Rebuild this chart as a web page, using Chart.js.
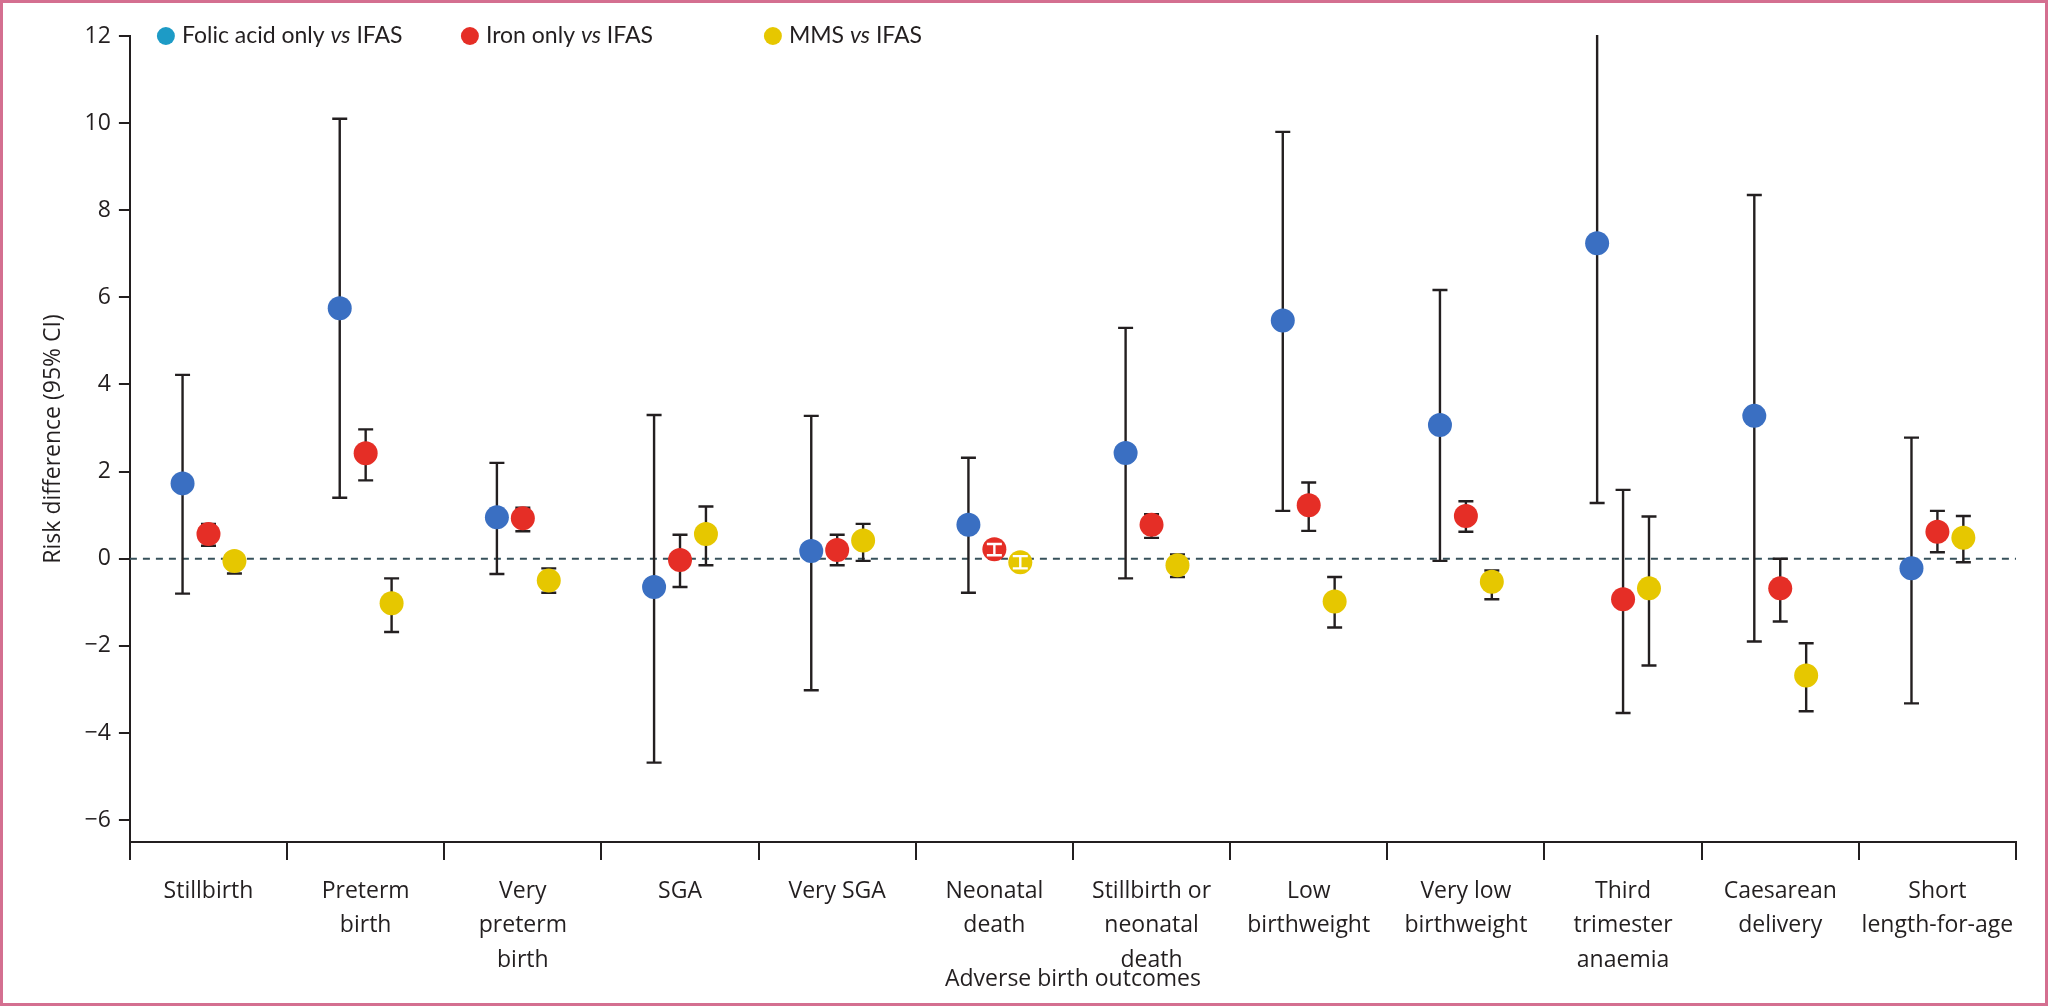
<!DOCTYPE html>
<html>
<head>
<meta charset="utf-8">
<script src="https://cdn.jsdelivr.net/npm/chart.js@4.4.1/dist/chart.umd.min.js"></script>
<style>
  html, body { margin: 0; padding: 0; background: #fff; }
  #wrap { width: 2048px; height: 1006px; }
</style>
</head>
<body>
<div id="wrap"><canvas id="rdChart"></canvas></div>
<script>
// Adverse birth outcomes: risk difference (95% CI) vs IFAS
const categories = [
    ['Stillbirth'], ['Preterm', 'birth'], ['Very', 'preterm', 'birth'], ['SGA'], ['Very SGA'],
    ['Neonatal', 'death'], ['Stillbirth or', 'neonatal', 'death'], ['Low', 'birthweight'],
    ['Very low', 'birthweight'], ['Third', 'trimester', 'anaemia'], ['Caesarean', 'delivery'],
    ['Short', 'length-for-age']
];
const yTicks = [-6, -4, -2, 0, 2, 4, 6, 8, 10, 12];
const seriesNames = ['Folic acid only vs IFAS', 'Iron only vs IFAS', 'MMS vs IFAS'];

const folicRD   = [1.73, 5.75, 0.95, -0.65, 0.18, 0.78, 2.43, 5.47, 3.07, 7.24, 3.28, -0.22];
const folicLow  = [-0.8, 1.4, -0.35, -4.68, -3.02, -0.78, -0.45, 1.1, -0.05, 1.28, -1.9, -3.32];
const folicHigh = [4.22, 10.1, 2.2, 3.3, 3.28, 2.32, 5.3, 9.8, 6.17, 12.5, 8.35, 2.78];

const ironRD    = [0.57, 2.42, 0.93, -0.03, 0.2, 0.22, 0.78, 1.23, 0.98, -0.93, -0.68, 0.62];
const ironLow   = [0.3, 1.8, 0.63, -0.65, -0.15, 0.08, 0.48, 0.64, 0.62, -3.54, -1.44, 0.15];
const ironHigh  = [0.8, 2.97, 1.17, 0.55, 0.55, 0.34, 1.02, 1.75, 1.32, 1.58, 0.0, 1.1];

const mmsRD     = [-0.05, -1.02, -0.5, 0.57, 0.42, -0.08, -0.15, -0.98, -0.53, -0.68, -2.68, 0.48];
const mmsLow    = [-0.34, -1.68, -0.78, -0.15, -0.05, -0.22, -0.42, -1.58, -0.93, -2.45, -3.5, -0.08];
const mmsHigh   = [0.12, -0.45, -0.22, 1.2, 0.8, 0.06, 0.1, -0.42, -0.27, 0.97, -1.94, 0.98];

const dodge = [-0.165, 0, 0.165];
const colors = ['#3a6fc2', '#e52e26', '#e6c700'];
const legendColors = ['#1d9bc6', '#e52e26', '#e6c700'];
const legendOffsets = [36, 340, 643];
const ink = '#231f20';
const FONT = '"Open Sans", sans-serif';
const LEGEND_FONT = 'Lato, sans-serif';
const RADIUS = 12;

function toPoints(values, k) {
    return values.map((v, i) => ({ x: i + dodge[k], y: v }));
}

function drawBar(ctx, x, lo, hi, color) {
    ctx.strokeStyle = color;
    ctx.lineWidth = 2.4;
    ctx.beginPath();
    ctx.moveTo(x, lo); ctx.lineTo(x, hi);
    ctx.moveTo(x - 7.5, lo); ctx.lineTo(x + 7.5, lo);
    ctx.moveTo(x - 7.5, hi); ctx.lineTo(x + 7.5, hi);
    ctx.stroke();
}

const errorBars = {
    id: 'errorBars',
    beforeDatasetsDraw(chart) {
        const { ctx, chartArea, scales: { y } } = chart;
        ctx.save();
        ctx.beginPath();
        ctx.rect(chartArea.left, chartArea.top - 1, chartArea.width, chartArea.height + 2);
        ctx.clip();
        // dashed zero line
        const y0 = y.getPixelForValue(0);
        ctx.strokeStyle = '#36505a';
        ctx.lineWidth = 2;
        ctx.setLineDash([7, 6]);
        ctx.beginPath();
        ctx.moveTo(chartArea.left, y0);
        ctx.lineTo(chartArea.right, y0);
        ctx.stroke();
        ctx.setLineDash([]);
        chart.data.datasets.forEach((ds, k) => {
            chart.getDatasetMeta(k).data.forEach((pt, i) => {
                drawBar(ctx, pt.x, y.getPixelForValue(ds.ciLow[i]), y.getPixelForValue(ds.ciHigh[i]), ink);
            });
        });
        ctx.restore();
    },
    afterDatasetsDraw(chart) {
        // a CI well inside its marker is drawn in white over the marker
        const { ctx, scales: { y } } = chart;
        ctx.save();
        chart.data.datasets.forEach((ds, k) => {
            chart.getDatasetMeta(k).data.forEach((pt, i) => {
                const lo = y.getPixelForValue(ds.ciLow[i]);
                const hi = y.getPixelForValue(ds.ciHigh[i]);
                if (Math.abs(lo - pt.y) < RADIUS - 3 && Math.abs(hi - pt.y) < RADIUS - 3) {
                    drawBar(ctx, pt.x, lo, hi, '#fff');
                }
            });
        });
        ctx.restore();
    }
};

const legendRow = {
    id: 'legendRow',
    afterDraw(chart) {
        const { ctx, chartArea, scales: { y } } = chart;
        const yc = y.getPixelForValue(12);
        ctx.save();
        ctx.textBaseline = 'middle';
        seriesNames.forEach((name, k) => {
            let x = chartArea.left + legendOffsets[k];
            ctx.fillStyle = legendColors[k];
            ctx.beginPath();
            ctx.arc(x, yc, 9, 0, Math.PI * 2);
            ctx.fill();
            x += 16;
            ctx.fillStyle = ink;
            const [pre, post] = name.split(' vs ');
            [[pre + ' ', ''], ['vs', 'italic '], [' ' + post, '']].forEach(([txt, style]) => {
                ctx.font = style + '23px ' + LEGEND_FONT;
                ctx.fillText(txt, x, yc);
                x += ctx.measureText(txt).width;
            });
        });
        ctx.restore();
    }
};

const frame = {
    id: 'frame',
    afterDraw(chart) {
        const { ctx, width, height } = chart;
        ctx.save();
        ctx.strokeStyle = '#d46f90';
        ctx.lineWidth = 3;
        ctx.strokeRect(1.5, 1.5, width - 3, height - 3);
        ctx.restore();
    }
};

const ctx = document.getElementById('rdChart').getContext('2d');
new Chart(ctx, {
    type: 'scatter',
    data: {
        datasets: [
            { label: seriesNames[0], data: toPoints(folicRD, 0), ciLow: folicLow, ciHigh: folicHigh, backgroundColor: colors[0] },
            { label: seriesNames[1], data: toPoints(ironRD, 1), ciLow: ironLow, ciHigh: ironHigh, backgroundColor: colors[1] },
            { label: seriesNames[2], data: toPoints(mmsRD, 2), ciLow: mmsLow, ciHigh: mmsHigh, backgroundColor: colors[2] }
        ].map(ds => Object.assign(ds, {
            xAxisID: 'xl', yAxisID: 'y', pointRadius: RADIUS, pointHoverRadius: RADIUS, borderWidth: 0
        }))
    },
    options: {
        responsive: true,
        maintainAspectRatio: false,
        animation: false,
        layout: { padding: { top: 36, right: 32, bottom: 0, left: 10 } },
        plugins: {
            legend: { display: false },
            tooltip: { enabled: false }
        },
        scales: {
            x: {
                type: 'category',
                labels: categories,
                offset: true,
                grid: { offset: true, drawOnChartArea: false, tickLength: 18, color: ink, lineWidth: 2 },
                border: { color: ink, width: 2 },
                ticks: { color: ink, font: { family: FONT, size: 23, lineHeight: 1.5 }, padding: 14, maxRotation: 0, autoSkip: false },
                title: {
                    display: true,
                    text: 'Adverse birth outcomes',
                    color: ink,
                    font: { family: FONT, size: 23 },
                    padding: { top: -26, bottom: 13 }
                }
            },
            xl: { type: 'linear', min: -0.5, max: 11.5, display: false },
            y: {
                min: -6.5,
                max: 12,
                afterBuildTicks: scale => { scale.ticks = yTicks.map(v => ({ value: v })); },
                grid: { drawOnChartArea: false, tickLength: 11, color: ink, lineWidth: 2 },
                border: { color: ink, width: 2 },
                ticks: {
                    color: ink,
                    font: { family: FONT, size: 23 },
                    padding: 8,
                    callback: v => v < 0 ? '\u2212' + Math.abs(v) : String(v)
                },
                title: {
                    display: true,
                    text: 'Risk difference (95% CI)',
                    color: ink,
                    font: { family: FONT, size: 23 },
                    padding: { top: 30, bottom: 9 }
                }
            }
        }
    },
    plugins: [errorBars, legendRow, frame]
});
</script>
</body>
</html>
